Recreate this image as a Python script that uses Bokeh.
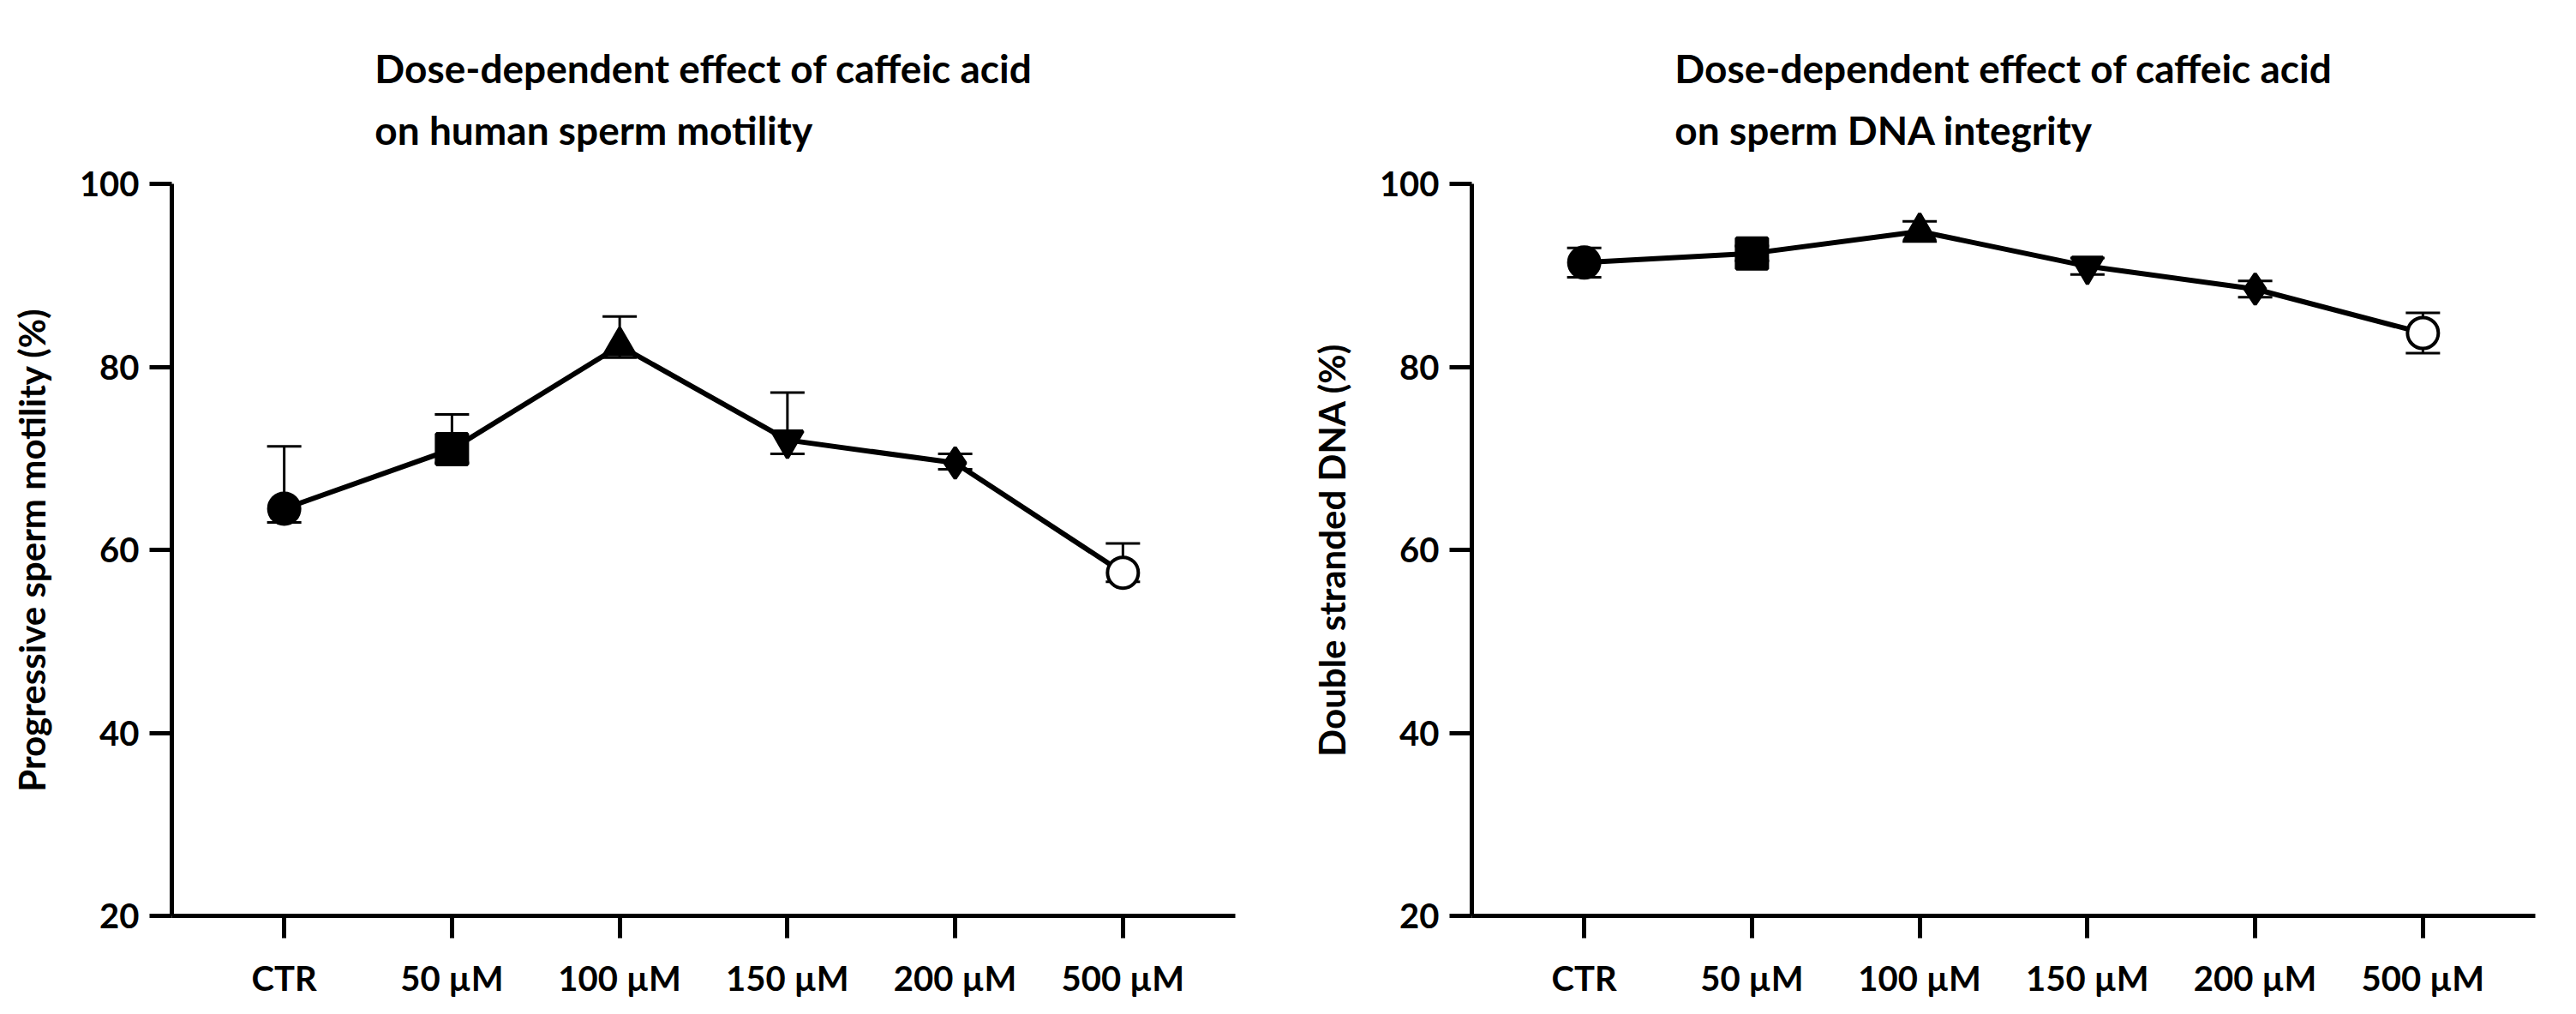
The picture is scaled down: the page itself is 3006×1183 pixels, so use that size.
from bokeh.plotting import figure
from bokeh.models import ColumnDataSource, Whisker, TeeHead, Title, Label, FixedTicker
from bokeh.layouts import row
from bokeh.embed import file_html
from bokeh.resources import INLINE

categories = ["CTR", "50 µM", "100 µM", "150 µM", "200 µM", "500 µM"]
markers = ["circle", "square", "triangle", "inverted_triangle", "diamond", "circle"]
fills = ["black", "black", "black", "black", "black", "white"]

motility_mean = [64.5, 71.0, 82.3, 72.0, 69.5, 57.5]
motility_upper = [71.3, 74.8, 85.5, 77.2, 70.5, 60.7]
motility_lower = [63.0, 69.5, 81.0, 70.5, 68.8, 56.5]

dna_mean = [91.4, 92.4, 94.8, 91.0, 88.5, 83.7]
dna_upper = [93.0, 93.2, 95.9, 91.9, 89.4, 85.9]
dna_lower = [89.8, 91.6, 93.7, 90.1, 87.6, 81.5]

y_ticks = [20, 40, 60, 80, 100]
FONT = "Lato"


def panel(letter, line1, line2, ylabel, mean, upper, lower, left, right):
    xs = list(range(len(categories)))
    p = figure(width=1495, height=1167, output_backend="svg", toolbar_location=None,
               x_range=(-0.67, 5.67), y_range=(20, 100),
               min_border_left=left, min_border_right=right, min_border_bottom=60,
               min_border_top=214)
    p.title.text = ""
    p.title.visible = False
    p.add_layout(Title(text=line1 + "\n" + line2, align="center", text_font=FONT,
                       text_font_size="46px", text_font_style="bold", text_color="black",
                       text_line_height=1.3, standoff=72), "above")
    p.outline_line_color = None
    p.grid.visible = False
    for ax in (p.xaxis, p.yaxis):
        ax.axis_line_width = 5
        ax.major_tick_line_width = 5
        ax.major_tick_out = 26
        ax.major_tick_in = 0
        ax.minor_tick_line_color = None
        ax.major_label_text_font = FONT
        ax.major_label_text_font_size = "40px"
        ax.major_label_text_font_style = "bold"
        ax.major_label_text_color = "black"
    p.xaxis.ticker = FixedTicker(ticks=xs)
    p.xaxis.major_label_overrides = {i: c for i, c in enumerate(categories)}
    p.xaxis.major_label_standoff = 22
    p.yaxis.ticker = FixedTicker(ticks=y_ticks)
    p.yaxis.major_label_standoff = 12
    p.yaxis.axis_label = ylabel
    p.yaxis.axis_label_text_font = FONT
    p.yaxis.axis_label_text_font_size = "42px"
    p.yaxis.axis_label_text_font_style = "bold"
    p.yaxis.axis_label_text_color = "black"
    p.yaxis.axis_label_standoff = 28

    src = ColumnDataSource(dict(x=xs, mean=mean, upper=upper, lower=lower,
                                marker=markers, fill=fills))
    w = Whisker(base="x", upper="upper", lower="lower", source=src, line_width=3,
                upper_head=TeeHead(size=40, line_width=3),
                lower_head=TeeHead(size=40, line_width=3), level="underlay")
    p.add_layout(w)
    p.line("x", "mean", source=src, line_width=6, color="black")
    p.scatter("x", "mean", source=src, marker="marker", fill_color="fill",
              line_color="black", line_width=4, size=36)
    x_letter = -0.67 - (left - 16) / 196.0
    p.add_layout(Label(x=x_letter, y=110.5, text=letter, text_font="Liberation Sans",
                       text_font_size="68px", text_font_style="bold", text_color="black"))
    return p


pa = panel("A", "Dose-dependent effect of caffeic acid", "on human sperm motility",
           "Progressive sperm motility (%)", motility_mean, motility_upper, motility_lower, 200, 54)
pb = panel("B", "Dose-dependent effect of caffeic acid", "on sperm DNA integrity",
           "Double stranded DNA (%)", dna_mean, dna_upper, dna_lower, 222, 32)

layout = row(pa, pb)
open("out.html", "w").write(file_html(layout, INLINE))
